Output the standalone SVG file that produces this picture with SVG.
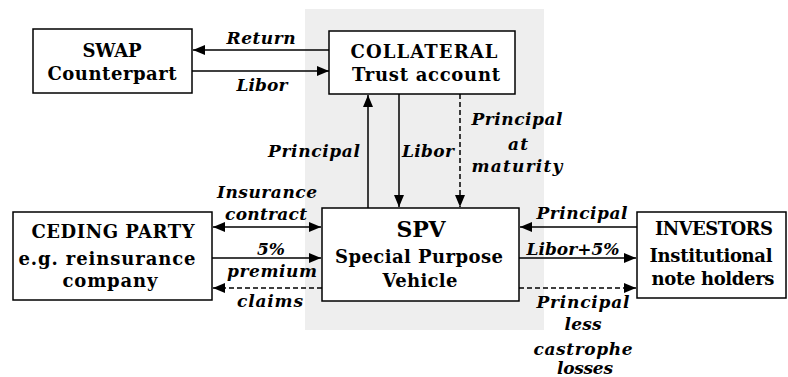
<svg xmlns="http://www.w3.org/2000/svg" width="788" height="377" viewBox="0 0 788 377">
<style>
.box{fill:#fff;stroke:#000;stroke-width:1.5}
.t{font-family:"DejaVu Serif","Liberation Serif",serif;font-weight:bold;font-size:18px;text-anchor:middle;fill:#000}
.big{font-size:22px}
.l{font-family:"DejaVu Serif","Liberation Serif",serif;font-weight:bold;font-style:italic;font-size:17px;text-anchor:middle;fill:#000}
.c{stroke:#000;stroke-width:1.5;fill:none}
.d{stroke-dasharray:5,3}
</style>
<defs>
<marker id="ah" markerUnits="userSpaceOnUse" markerWidth="13" markerHeight="11" refX="12" refY="5" orient="auto-start-reverse" viewBox="0 0 13 10">
<path d="M0,0 L12,5 L0,10 z" fill="#000"/>
</marker>
</defs>
<rect x="305" y="9" width="239" height="321" fill="#eeeeee"/>
<g id="connectors">
<line class="c" x1="336" y1="50" x2="193" y2="50" marker-end="url(#ah)"/>
<line class="c" x1="192" y1="71" x2="329" y2="71" marker-end="url(#ah)"/>
<line class="c" x1="368" y1="208" x2="368" y2="95" marker-end="url(#ah)"/>
<line class="c" x1="399" y1="94" x2="399" y2="207" marker-end="url(#ah)"/>
<line class="c d" x1="460" y1="94" x2="460" y2="207" marker-end="url(#ah)"/>
<line class="c" x1="213" y1="227" x2="321" y2="227" marker-start="url(#ah)" marker-end="url(#ah)"/>
<line class="c" x1="212" y1="258" x2="321" y2="258" marker-end="url(#ah)"/>
<line class="c d" x1="322" y1="288" x2="213" y2="288" marker-end="url(#ah)"/>
<line class="c" x1="637" y1="227" x2="520" y2="227" marker-end="url(#ah)"/>
<line class="c" x1="519" y1="258" x2="636" y2="258" marker-end="url(#ah)"/>
<line class="c d" x1="519" y1="288" x2="636" y2="288" marker-end="url(#ah)"/>
</g>
<g id="labels">
<text class="l" x="261" y="44" textLength="69">Return</text>
<text class="l" x="262" y="91" textLength="51">Libor</text>
<text class="l" x="314" y="157" textLength="92">Principal</text>
<text class="l" x="428" y="157" textLength="52">Libor</text>
<text class="l" x="517" y="125" textLength="91">Principal</text>
<text class="l" x="518" y="150" textLength="20">at</text>
<text class="l" x="517" y="172" textLength="91">maturity</text>
<text class="l" x="267" y="198" textLength="100">Insurance</text>
<text class="l" x="266" y="220" textLength="82">contract</text>
<text class="l" x="271" y="255" textLength="28">5%</text>
<text class="l" x="272" y="277" textLength="90">premium</text>
<text class="l" x="270" y="307" textLength="66">claims</text>
<text class="l" x="582" y="219" textLength="91">Principal</text>
<text class="l" x="573" y="255" textLength="93">Libor+5%</text>
<text class="l" x="583" y="308" textLength="93">Principal</text>
<text class="l" x="583" y="330" textLength="37">less</text>
<text class="l" x="583" y="355" textLength="99">castrophe</text>
<text class="l" x="585" y="374" textLength="56">losses</text>
</g>
<g id="swap">
<rect class="box" x="33" y="29" width="159" height="64"/>
<text class="t" x="112" y="57" textLength="59">SWAP</text>
<text class="t" x="112" y="80" textLength="129">Counterpart</text>
</g>
<g id="collateral">
<rect class="box" x="329" y="31" width="186" height="63"/>
<text class="t" x="424" y="58" textLength="147">COLLATERAL</text>
<text class="t" x="426" y="81" textLength="148">Trust account</text>
</g>
<g id="ceding">
<rect class="box" x="13" y="212" width="199" height="88"/>
<text class="t" x="113" y="238" textLength="163">CEDING PARTY</text>
<text class="t" x="107" y="265" textLength="177">e.g. reinsurance</text>
<text class="t" x="110" y="287" textLength="95">company</text>
</g>
<g id="spv">
<rect class="box" x="322" y="208" width="197" height="93"/>
<text class="t big" x="421" y="237" textLength="49">SPV</text>
<text class="t" x="419" y="263" textLength="168">Special Purpose</text>
<text class="t" x="420" y="287" textLength="75">Vehicle</text>
</g>
<g id="investors">
<rect class="box" x="637" y="212" width="149" height="86"/>
<text class="t" x="714" y="235" textLength="118">INVESTORS</text>
<text class="t" x="711" y="262" textLength="123">Institutional</text>
<text class="t" x="713" y="285" textLength="123">note holders</text>
</g>
</svg>
